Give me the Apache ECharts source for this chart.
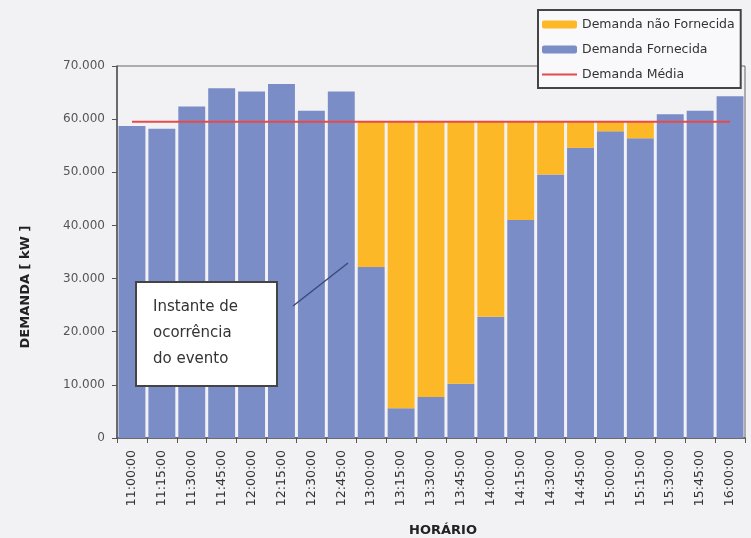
<!DOCTYPE html>
<html>
<head>
<meta charset="utf-8">
<script src="https://cdn.jsdelivr.net/npm/echarts@6/dist/echarts.min.js"></script>
<style>
html,body{margin:0;padding:0;background:#f2f2f5;}
#c{width:751px;height:538px;}
</style>
</head>
<body>
<div id="c"></div>
<script>
const categories = ['11:00:00','11:15:00','11:30:00','11:45:00','12:00:00','12:15:00','12:30:00','12:45:00','13:00:00','13:15:00','13:30:00','13:45:00','14:00:00','14:15:00','14:30:00','14:45:00','15:00:00','15:15:00','15:30:00','15:45:00','16:00:00'];
const demandaFornecida = [58700, 58200, 62400, 65800, 65200, 66600, 61600, 65200, 32200, 5600, 7700, 10200, 22800, 41000, 49600, 54600, 57700, 56400, 60900, 61600, 64300];
const demandaNaoFornecida = [0, 0, 0, 0, 0, 0, 0, 0, 27300, 53900, 51800, 49300, 36700, 18500, 9900, 4900, 1800, 3100, 0, 0, 0];
const demandaMedia = [59500, 59500, 59500, 59500, 59500, 59500, 59500, 59500, 59500, 59500, 59500, 59500, 59500, 59500, 59500, 59500, 59500, 59500, 59500, 59500, 59500];
const yTicks = [0, 10000, 20000, 30000, 40000, 50000, 60000, 70000];

const chart = echarts.init(document.getElementById('c'), null, {renderer: 'canvas'});
const font = 'DejaVu Sans, Arial, sans-serif';
chart.setOption({
  backgroundColor: '#f2f2f5',
  animation: false,
  textStyle: {fontFamily: font},
  grid: {left: 117, right: 6, top: 66, bottom: 100, show: true, borderColor: '#666', borderWidth: 1, backgroundColor: 'transparent'},
  legend: {
    orient: 'vertical', left: 538, top: 10,
    data: [
      {name: 'Demanda não Fornecida'},
      {name: 'Demanda Fornecida'},
      {name: 'Demanda Média', icon: 'path://M0,0H35V2H0Z'}
    ],
    itemWidth: 35, itemHeight: 8, itemGap: 12,
    symbolKeepAspect: true,
    backgroundColor: '#f9f9fb', borderColor: '#444', borderWidth: 2, borderRadius: 0,
    padding: [8, 6, 7, 4],
    textStyle: {fontSize: 12.5, color: '#333', fontFamily: font}
  },
  xAxis: {
    type: 'category', data: categories,
    axisLine: {lineStyle: {color: '#555', width: 1.5}},
    axisTick: {show: true, length: 5, lineStyle: {color: '#555'}},
    axisLabel: {rotate: 90, fontSize: 12.5, color: '#333', margin: 12, interval: 0, fontFamily: font}
  },
  yAxis: {
    type: 'value', min: 0, max: 70000, interval: 10000,
    axisLine: {show: true, lineStyle: {color: '#555', width: 1.5}},
    axisTick: {show: true, length: 5, lineStyle: {color: '#555'}},
    splitLine: {show: false},
    axisLabel: {fontSize: 12, color: '#555', margin: 12, fontFamily: font,
      formatter: v => yTicks.indexOf(v) >= 0 ? (v === 0 ? '0' : v.toLocaleString('de-DE')) : ''}
  },
  series: [
    {name: 'Demanda Fornecida', type: 'bar', stack: 'd', data: demandaFornecida,
     barCategoryGap: '10%', itemStyle: {color: '#7b8dc7'}},
    {name: 'Demanda não Fornecida', type: 'bar', stack: 'd', data: demandaNaoFornecida,
     itemStyle: {color: '#fdb827'}},
    {name: 'Demanda Média', type: 'line', data: demandaMedia, symbol: 'none', z: 5,
     lineStyle: {color: '#e64a4a', width: 2}, itemStyle: {color: '#e64a4a'}}
  ],
  graphic: [
    {type: 'text', x: 26, y: 287, rotation: Math.PI / 2,
     style: {text: 'DEMANDA [ kW ]', fontSize: 13, fontWeight: 'bold', fill: '#222', fontFamily: font, align: 'center', verticalAlign: 'middle'}},
    {type: 'text', x: 443, y: 531,
     style: {text: 'HORÁRIO', fontSize: 13, fontWeight: 'bold', fill: '#222', fontFamily: font, align: 'center', verticalAlign: 'middle'}},
    {type: 'line', shape: {x1: 293, y1: 306, x2: 348, y2: 263}, style: {stroke: '#3a4a7a', lineWidth: 1.5}, z: 10},
    {type: 'rect', shape: {x: 136, y: 282, width: 141, height: 104}, style: {fill: '#ffffff', stroke: '#444', lineWidth: 2}, z: 10},
    {type: 'text', x: 153, y: 294, z: 11,
     style: {text: 'Instante de\nocorrência\ndo evento', fontSize: 15, lineHeight: 26, fill: '#333', fontFamily: font}}
  ]
});
</script>
</body>
</html>
